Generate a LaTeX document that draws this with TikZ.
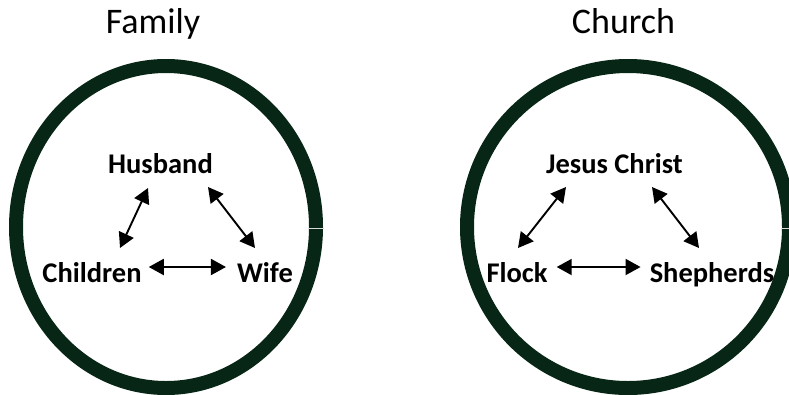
\documentclass[tikz,border=0pt]{standalone}
\usepackage{fontspec}
\setmainfont{Carlito}
\usetikzlibrary{arrows.meta,calc}
\definecolor{ringgreen}{RGB}{7,38,22}
\tikzset{
  ring/.style={draw=ringgreen, line width=14pt},
  seam/.style={draw=gray!30, line width=0.9pt},
  title/.style={anchor=base, inner sep=0pt, font=\fontsize{36}{40}\selectfont},
  lbl/.style={anchor=base, inner sep=0pt, font=\fontsize{28.5}{32}\selectfont\bfseries},
  arr/.style={line width=1.9pt, {Triangle[length=15pt,width=16pt]}-{Triangle[length=15pt,width=16pt]}}
}
\begin{document}
\begin{tikzpicture}[x=1pt,y=-1pt]
\useasboundingbox (0,0) rectangle (789,394);
\clip (0,0) rectangle (789,394);
% rings
\draw[ring] (166,227) ellipse [x radius=150, y radius=161];
\draw[ring] (628,227) ellipse [x radius=161, y radius=161];
\draw[seam] (308,228) -- (324,228);
\draw[seam] (781,228) -- (789,228);
% titles
\node[title] (tfam) at (153,33) {Family};
\node[title] (tch) at (623.5,33) {Church};
% family
\node[lbl] (hus) at (160.5,173) {Husband};
\node[lbl] (chi) at (92,282) {Children};
\node[lbl] (wif) at (265,282) {Wife};
\draw[arr] ($(hus.base)+(-12.5,15)$) -- ($(chi.base)+(28,-34)$);
\draw[arr] ($(hus.base)+(47.5,14)$) -- ($(wif.base)+(-10,-34)$);
\draw[arr] ($(chi.base east)+(7,-15)$) -- ($(wif.base west)+(-11,-15)$);
% church
\node[lbl] (jc) at (614.5,173) {Jesus Christ};
\node[lbl] (flo) at (517,282) {Flock};
\node[lbl] (she) at (712,282) {Shepherds};
\draw[arr] ($(jc.base)+(-48.5,14)$) -- ($(flo.base)+(1,-34)$);
\draw[arr] ($(jc.base)+(37.5,14)$) -- ($(she.base)+(-13,-34)$);
\draw[arr] ($(flo.base east)+(9,-15)$) -- ($(she.base west)+(-9,-15)$);
\end{tikzpicture}
\end{document}
